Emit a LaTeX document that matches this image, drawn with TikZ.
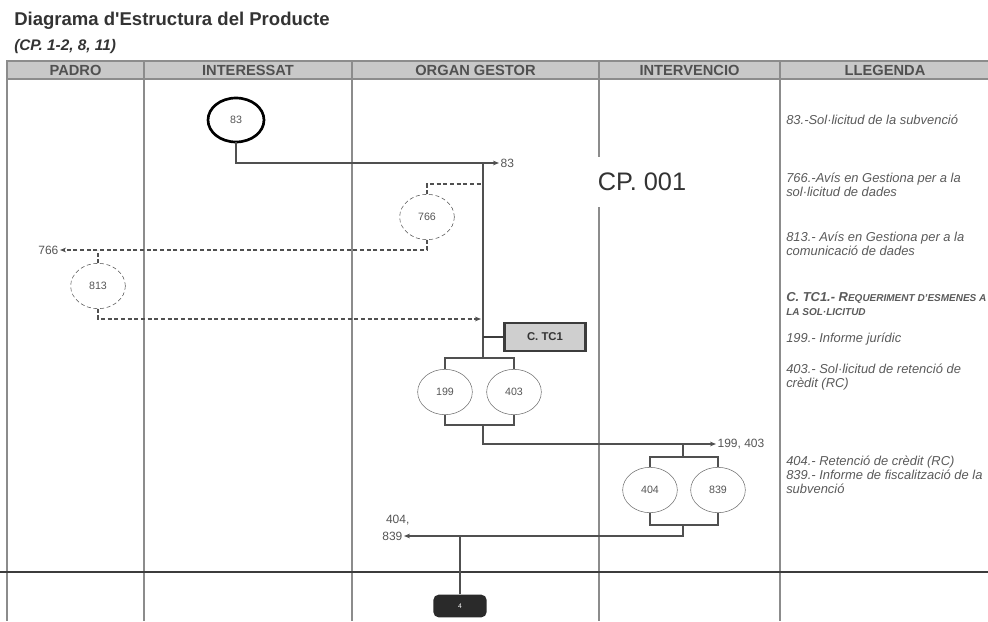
\documentclass[tikz,border=0pt]{standalone}
\usepackage{fontspec}
\setmainfont{Liberation Sans}
\usetikzlibrary{arrows.meta,shapes.geometric}

\definecolor{headgray}{HTML}{C8C8C8}
\definecolor{lanegray}{HTML}{8C8C8C}
\definecolor{headtext}{HTML}{505050}
\definecolor{flowgray}{HTML}{505050}
\definecolor{docgray}{HTML}{6E6E6E}
\definecolor{numgray}{HTML}{555555}
\definecolor{legendgray}{HTML}{5A5A5A}
\definecolor{titlegray}{HTML}{333333}
\definecolor{boxfill}{HTML}{CFCFCF}
\definecolor{boxedge}{HTML}{3C3C3C}
\definecolor{darkbox}{HTML}{2A2A2A}

\begin{document}
\begin{tikzpicture}[
    x=0.75pt, y=-0.75pt,
    >={Stealth[length=4.5pt,width=3.5pt]},
    lane/.style={draw=lanegray, line width=1.1pt},
    headtxt/.style={font=\fontsize{11}{12}\selectfont\bfseries, text=headtext},
    doc/.style={draw=docgray, ellipse, minimum width=41pt, minimum height=34pt, inner sep=0pt, outer sep=0pt, font=\fontsize{8}{9}\selectfont, text=numgray},
    startdoc/.style={doc, draw=black, line width=2pt, minimum width=42pt, minimum height=33pt},
    dashdoc/.style={doc, draw=flowgray, dash pattern=on 3pt off 2pt},
    flow/.style={draw=flowgray, line width=0.8pt},
    dflow/.style={flow, dash pattern=on 3pt off 2pt},
    lbl/.style={font=\fontsize{9}{10}\selectfont, text=numgray, inner sep=1pt},
    legend/.style={anchor=west, align=left, font=\fontsize{9.7}{10.5}\selectfont\itshape, text=legendgray, inner sep=0pt},
    tcbox/.style={draw=boxedge, fill=boxfill, line width=2pt, minimum width=61pt, minimum height=21pt, font=\fontsize{8.5}{10}\selectfont\bfseries, text=titlegray},
    endbox/.style={fill=darkbox, rounded corners=4pt, minimum width=40pt, minimum height=17pt, text=white, font=\fontsize{5}{6}\selectfont}
]
  \useasboundingbox (0,0) rectangle (988,621);

  % Title
  \node[anchor=west, inner sep=0pt, font=\fontsize{13.9}{15}\selectfont\bfseries, text=titlegray] (title) at (14,21) {Diagrama d\textquotesingle Estructura del Producte};
  \node[anchor=west, inner sep=0pt, font=\fontsize{11.5}{12}\selectfont\bfseries\itshape, text=titlegray] (subtitle) at (14,47) {(CP. 1-2, 8, 11)};

  % Lanes
  \draw[draw=lanegray, line width=1pt, fill=headgray] (7,61) rectangle (995,79);
  \foreach \x in {7,144,352,599,780}
    \draw[lane] (\x,61) -- (\x,621);
  \node[headtxt] (hpadro) at (75.5,70) {PADRO};
  \node[headtxt] (hint) at (248,70) {INTERESSAT};
  \node[headtxt] (horg) at (475.5,70) {ORGAN GESTOR};
  \node[headtxt] (hinterv) at (689.5,70) {INTERVENCIO};
  \node[headtxt] (hlleg) at (885,70) {LLEGENDA};
  \draw[draw=boxedge, line width=2.2pt] (0,572) -- (988,572);

  % Documents
  \node[startdoc] (n83) at (236,120) {83};
  \node[dashdoc] (n766) at (427,217) {766};
  \node[dashdoc] (n813) at (98,286) {813};
  \node[tcbox] (tc1) at (545,337) {C. TC1};
  \node[doc] (n199) at (445,392) {199};
  \node[doc] (n403) at (514,392) {403};
  \node[doc] (n404) at (650,490) {404};
  \node[doc] (n839) at (718,490) {839};
  \node[endbox] (fin) at (460,606) {4};

  % Labels
  \node[lbl, anchor=west] (l83) at (499,163) {83};
  \node[lbl, anchor=east] (l766) at (60,250) {766};
  \node[lbl, anchor=west] (l199) at (716,444) {199, 403};
  \node[lbl, anchor=east] (l404) at (411,520) {404,};
  \node[lbl, anchor=east] (l839) at (404,536) {839};

  % Junctions
  \coordinate (j83) at (483,163);
  \coordinate (j766) at (483,184);
  \coordinate (j813) at (481,319);
  \coordinate (jtop) at (483,358);
  \coordinate (jbot) at (483,425);
  \coordinate (j404) at (683,444);
  \coordinate (j404top) at (683,457);
  \coordinate (j404bot) at (683,525);

  % Flow
  \draw[flow,->] (n83.south) |- (l83.west);
  \draw[flow] (j83) -- (jtop);
  \draw[dflow] (n766.north) |- (j766);
  \draw[dflow,->] (n766.south) |- (l766.east);
  \draw[dflow] (n813.north) -- (n813.north |- l766.east);
  \draw[dflow,->] (n813.south) |- (j813);
  \draw[draw=boxedge, line width=2pt] (tc1.west) -- (tc1.west -| j83);
  \draw[flow] (n199.north) |- (jtop) -| (n403.north);
  \draw[flow] (n199.south) |- (jbot) -| (n403.south);
  \draw[flow,->] (jbot) |- (l199.west);
  \draw[flow] (j404) -- (j404top);
  \draw[flow] (n404.north) |- (j404top) -| (n839.north);
  \draw[flow] (n404.south) |- (j404bot) -| (n839.south);
  \draw[flow,->] (j404bot) |- (l839.east);
  \draw[flow] (fin.north) -- (fin.north |- l839.east);

  % Procedure
  \node[fill=white, inner xsep=2pt, inner ysep=12pt, font=\fontsize{19}{21}\selectfont, text=titlegray] (cp) at (642,182) {CP. 001};

  % Legend
  \node[legend] (lg83) at (786,120) {83.-Sol·licitud de la subvenció};
  \node[legend] (lg766) at (786,185) {766.-Avís en Gestiona per a la\\sol·licitud de dades};
  \node[legend] (lg813) at (786,244) {813.- Avís en Gestiona per a la\\comunicació de dades};
  \node[legend] (lgtc1) at (786,304) {\bfseries C. TC1.- R{\fontsize{7.5}{10.5}\selectfont EQUERIMENT D'ESMENES A}\\{\bfseries\fontsize{7.5}{10.5}\selectfont LA SOL·LICITUD}};
  \node[legend] (lg199) at (786,339) {199.- Informe jurídic};
  \node[legend] (lg403) at (786,377) {403.- Sol·licitud de retenció de\\crèdit (RC)};
  \node[legend] (lg404) at (786,475) {404.- Retenció de crèdit (RC)\\839.- Informe de fiscalització de la\\subvenció};
\end{tikzpicture}
\end{document}
